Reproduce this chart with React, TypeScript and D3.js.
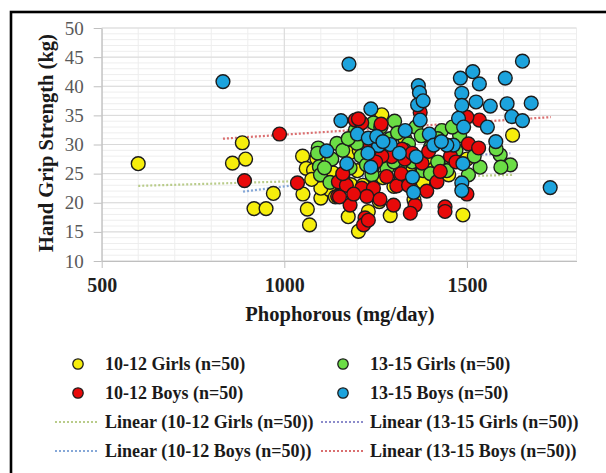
import * as d3 from "d3";
import { useEffect, useRef } from "react";

// tick values
const xTicks = [500, 1000, 1500];
const yTicks = [10, 15, 20, 25, 30, 35, 40, 45, 50];

// [phosphorous mg/day, hand grip kg]
const girls1012: [number, number][] = [
  [600, 26.7], [885, 30.3], [858, 26.8], [894, 27.5], [970, 21.6], [917, 19.0], [950, 19.0],
  [1050, 28.0], [1063, 18.9], [1069, 16.2], [1051, 21.5], [1100, 20.8], [1060, 25.9], [1080, 25.6],
  [1123, 22.3], [1116, 25.4], [1100, 22.5], [1089, 27.6], [1178, 28.5], [1175, 17.6], [1203, 15.1],
  [1182, 23.1], [1267, 35.1], [1625, 31.6], [1489, 17.9], [1450, 24.8], [1134, 25.1], [1160, 24.0],
  [1200, 25.5], [1215, 23.0], [1240, 26.0], [1270, 24.3], [1300, 22.8], [1320, 24.0], [1345, 26.5],
  [1230, 18.5], [1260, 20.2], [1290, 17.8], [1390, 27.0], [1410, 25.8], [1205, 29.0], [1140, 21.0],
  [1355, 20.5], [1380, 23.5], [1245, 30.5], [1330, 31.0], [1075, 24.0], [1500, 27.5], [1110, 27.2],
  [1280, 28.2],
];

const girls1315: [number, number][] = [
  [1093, 29.4], [1091, 28.5], [1096, 26.2], [1099, 24.8], [1144, 30.2], [1244, 33.7], [1130, 27.5],
  [1302, 34.0], [1264, 33.0], [1431, 32.4], [1160, 29.0], [1340, 30.1], [1454, 27.6], [1591, 28.2],
  [1619, 26.5], [1593, 26.1], [1536, 26.1], [1504, 24.8], [1317, 26.5], [1281, 25.9], [1199, 30.2],
  [1210, 28.0], [1225, 26.5], [1250, 30.5], [1290, 31.0], [1360, 33.0], [1400, 29.5], [1420, 31.0],
  [1470, 29.0], [1480, 31.5], [1580, 29.2], [1350, 27.0], [1380, 25.5], [1180, 26.0], [1160, 24.5],
  [1125, 23.5], [1265, 28.8], [1330, 29.0], [1445, 25.5], [1520, 28.0], [1240, 24.8], [1310, 32.0],
  [1375, 31.5], [1195, 32.5], [1420, 27.0], [1175, 31.0], [1300, 27.0], [1460, 33.0], [1400, 25.0],
  [1110, 26.0],
];

const boys1012: [number, number][] = [
  [987, 31.8], [891, 23.8], [1036, 23.4], [1146, 21.1], [1148, 23.6], [1194, 34.2], [1212, 33.7],
  [1180, 19.6], [1212, 22.5], [1244, 22.5], [1226, 21.1], [1221, 17.4], [1217, 16.2], [1203, 34.4],
  [1504, 30.1], [1532, 29.4], [1534, 34.2], [1500, 34.7], [1372, 35.5], [1322, 29.2], [1294, 27.9],
  [1267, 28.0], [1418, 23.6], [1427, 25.4], [1308, 22.9], [1262, 20.6], [1299, 19.6], [1358, 19.6],
  [1345, 18.2], [1440, 19.3], [1440, 18.5], [1500, 21.5], [1377, 26.8], [1170, 23.0], [1250, 27.0],
  [1330, 27.5], [1350, 28.5], [1395, 28.8], [1280, 24.5], [1320, 25.0], [1455, 28.0], [1230, 17.0],
  [1235, 30.0], [1160, 25.0], [1390, 22.0], [1470, 27.0], [1190, 21.5], [1340, 23.0], [1265, 33.5],
  [1151, 21.0],
];

const boys1315: [number, number][] = [
  [832, 40.8], [1177, 43.8], [1652, 44.3], [1516, 42.5], [1482, 41.4], [1534, 40.4], [1605, 41.4],
  [1367, 40.1], [1370, 38.9], [1486, 38.8], [1365, 36.8], [1486, 36.7], [1525, 37.3], [1564, 36.6],
  [1610, 37.0], [1676, 37.1], [1623, 34.8], [1652, 34.1], [1155, 34.1], [1237, 36.1], [1372, 34.2],
  [1477, 34.5], [1491, 33.0], [1556, 33.0], [1200, 31.8], [1331, 32.4], [1397, 31.8], [1579, 30.5],
  [1258, 29.8], [1229, 28.5], [1409, 29.9], [1463, 29.9], [1361, 27.9], [1171, 26.7], [1237, 26.1],
  [1351, 24.4], [1489, 26.7], [1354, 21.8], [1486, 23.4], [1486, 22.1], [1728, 22.6], [1116, 28.9],
  [1230, 31.1], [1253, 31.4], [1290, 30.0], [1315, 28.5], [1445, 29.9], [1380, 37.5], [1270, 30.5],
  [1430, 30.5],
];

// trendline end points
const trendGirls1012: [number, number][] = [[600, 22.9], [1625, 24.8]];
const trendGirls1315: [number, number][] = [[1091, 26.8], [1619, 28.5]];
const trendBoys1012: [number, number][] = [[887, 21.9], [1534, 27.0]];
const trendBoys1315: [number, number][] = [[832, 31.0], [1730, 34.7]];

const seriesNames = ["10-12 Girls (n=50)", "13-15 Girls (n=50)", "10-12 Boys (n=50)", "13-15 Boys (n=50)"];

export default function App() {
  const ref = useRef<SVGSVGElement>(null);

  useEffect(() => {
    const svg = d3.select(ref.current);
    svg.selectAll("*").remove();

    const font = "'Liberation Serif', 'Times New Roman', serif";
    const x = d3.scaleLinear().domain([500, 1800]).range([101.7, 576.5]);
    const y = d3.scaleLinear().domain([10, 50]).range([261, 28]);

    const series = [
      { name: seriesNames[0], data: girls1012, fill: "#F6EE0C", trend: trendGirls1012, tcolor: "#B9CC8A" },
      { name: seriesNames[1], data: girls1315, fill: "#6BDD45", trend: trendGirls1315, tcolor: "#8C8CCB" },
      { name: seriesNames[2], data: boys1012, fill: "#E80A0A", trend: trendBoys1012, tcolor: "#86A8D8" },
      { name: seriesNames[3], data: boys1315, fill: "#1CA3DD", trend: trendBoys1315, tcolor: "#DA6F70" },
    ];

    svg.append("rect").attr("width", 606).attr("height", 473).attr("fill", "#fff");

    // outer frame
    svg.append("rect")
      .attr("x", 11).attr("y", 12).attr("width", 700).attr("height", 600)
      .attr("fill", "none").attr("stroke", "#000").attr("stroke-width", 2.6);

    // minor grid
    const grid = svg.append("g");
    grid.selectAll("line.ym")
      .data(d3.range(10, 51, 1))
      .join("line")
      .attr("x1", x(500)).attr("x2", x(1800))
      .attr("y1", d => y(d)).attr("y2", d => y(d))
      .attr("stroke", "#EEEEEE").attr("stroke-width", 1);
    grid.selectAll("line.xm")
      .data(d3.range(500, 1801, 100))
      .join("line")
      .attr("y1", y(10)).attr("y2", y(50))
      .attr("x1", d => x(d)).attr("x2", d => x(d))
      .attr("stroke", "#EEEEEE").attr("stroke-width", 1);

    // major grid
    svg.append("g").selectAll("line")
      .data(yTicks)
      .join("line")
      .attr("x1", x(500)).attr("x2", x(1800))
      .attr("y1", d => y(d)).attr("y2", d => y(d))
      .attr("stroke", "#D9D9D9");
    svg.append("g").selectAll("line")
      .data(xTicks)
      .join("line")
      .attr("y1", y(10)).attr("y2", y(50))
      .attr("x1", d => x(d)).attr("x2", d => x(d))
      .attr("stroke", "#D9D9D9");

    // axes
    const yAxis = svg.append("g")
      .attr("transform", `translate(${x(500)},0)`)
      .call(d3.axisLeft(y).tickValues(yTicks).tickSize(8).tickPadding(10).tickSizeOuter(0));
    yAxis.select(".domain").attr("stroke", "#BFBFBF");
    yAxis.selectAll(".tick line").attr("stroke", "#BFBFBF");
    yAxis.selectAll("text")
      .attr("font-family", font).attr("font-size", 19).attr("fill", "#595959");

    const xAxis = svg.append("g")
      .attr("transform", `translate(0,${y(10)})`)
      .call(d3.axisBottom(x).tickValues(xTicks).tickFormat(d3.format("d")).tickSize(7).tickPadding(10).tickSizeOuter(0));
    xAxis.select(".domain").attr("stroke", "#BFBFBF");
    xAxis.selectAll(".tick line").attr("stroke", "#BFBFBF");
    xAxis.selectAll("text")
      .attr("font-family", font).attr("font-size", 20).attr("font-weight", "bold").attr("fill", "#1f1f1f");

    // titles
    svg.append("text")
      .attr("x", 340).attr("y", 321)
      .attr("text-anchor", "middle")
      .attr("font-family", font).attr("font-size", 20.5).attr("font-weight", "bold").attr("fill", "#1a1a1a")
      .text("Phophorous (mg/day)");
    svg.append("text")
      .attr("transform", "translate(53,143) rotate(-90)")
      .attr("text-anchor", "middle")
      .attr("font-family", font).attr("font-size", 20.5).attr("font-weight", "bold").attr("fill", "#1a1a1a")
      .text("Hand Grip Strength (kg)");

    // trendlines
    const line = d3.line<[number, number]>().x(d => x(d[0])).y(d => y(d[1]));
    svg.append("g").selectAll("path")
      .data(series)
      .join("path")
      .attr("d", d => line(d.trend))
      .attr("fill", "none")
      .attr("stroke", d => d.tcolor)
      .attr("stroke-width", 2.2)
      .attr("stroke-dasharray", "2,2");

    // markers
    svg.append("g").selectAll("g")
      .data(series)
      .join("g")
      .attr("fill", d => d.fill)
      .selectAll("circle")
      .data(d => d.data)
      .join("circle")
      .attr("cx", d => x(d[0]))
      .attr("cy", d => y(d[1]))
      .attr("r", 6.9)
      .attr("stroke", "#1c1c1c")
      .attr("stroke-width", 1.4);

    // legend
    const rows = [364, 393, 422, 451];
    const cols = [{ mk: 78, ln: 55, tx: 105 }, { mk: 343, ln: 321, tx: 370 }];
    const legend = svg.append("g")
      .attr("font-family", font).attr("font-size", 18).attr("font-weight", "bold").attr("fill", "#1a1a1a");

    series.forEach((s, i) => {
      const c = cols[i % 2];
      const r = rows[Math.floor(i / 2)];
      legend.append("circle")
        .attr("cx", c.mk).attr("cy", r).attr("r", 5.2)
        .attr("fill", s.fill).attr("stroke", "#1c1c1c").attr("stroke-width", 1.3);
      legend.append("text").attr("x", c.tx).attr("y", r + 6).text(s.name);
    });
    series.forEach((s, i) => {
      const c = cols[i % 2];
      const r = rows[2 + Math.floor(i / 2)];
      legend.append("line")
        .attr("x1", c.ln).attr("x2", c.ln + 43).attr("y1", r).attr("y2", r)
        .attr("stroke", s.tcolor).attr("stroke-width", 2).attr("stroke-dasharray", "2,2");
      legend.append("text").attr("x", c.tx).attr("y", r + 6).text(`Linear (${s.name})`);
    });
  }, []);

  return (
    <svg ref={ref} width={606} height={473} style={{ position: "absolute", left: 0, top: 0 }}></svg>
  );
}
